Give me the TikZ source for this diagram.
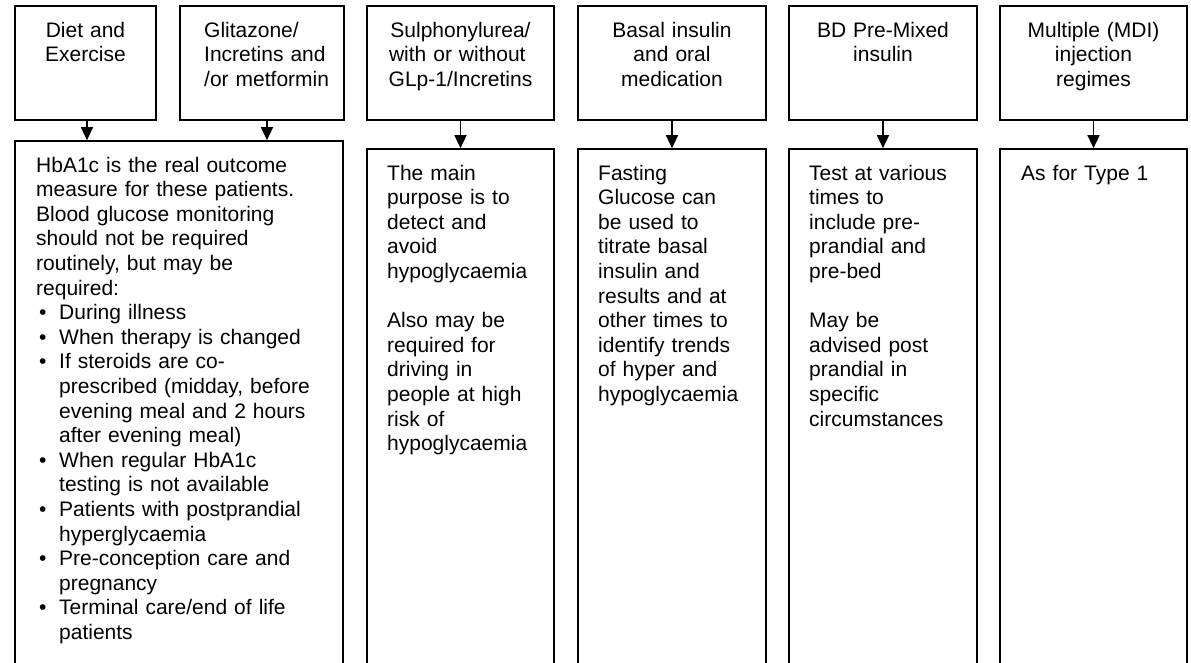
\documentclass[tikz,border=0pt]{standalone}
\usepackage{fontspec}
\setmainfont{Liberation Sans}
\usetikzlibrary{arrows.meta}
\newcommand{\myitem}{\makebox[23pt][l]{\hspace{3pt}\textbullet}}
\newcommand{\myind}{\hspace*{23pt}}
\begin{document}
\begin{tikzpicture}[x=1pt,y=-1pt,
  boxstyle/.style={draw, line width=1.7pt, inner sep=0pt, minimum height=#1},
  hbox/.style={boxstyle=114pt},
  tbox/.style={boxstyle=571pt},
  txt/.style={font=\fontsize{21pt}{24.6pt}\selectfont, inner sep=0pt, text width=#1, align=left, anchor=base west},
  hd/.style={font=\fontsize{21pt}{24.6pt}\selectfont, inner sep=0pt, text width=#1, align=center, anchor=base},
  arr/.style={line width=1.6pt, -{Triangle[length=13pt,width=12pt]}}]
\useasboundingbox (0,0) rectangle (1191,662);
\clip (0,0) rectangle (1191,662);
\fill[white] (0,0) rectangle (1191,662);
% header boxes
\node[hbox, minimum width=141pt] (h1) at (85.5,63) {};
\node[hbox, minimum width=164pt] (h2) at (262,63) {};
\node[hbox, minimum width=187pt] (h3) at (460.5,63) {};
\node[hbox, minimum width=188pt] (h4) at (672,63) {};
\node[hbox, minimum width=188pt] (h5) at (883,63) {};
\node[hbox, minimum width=187pt] (h6) at (1093.5,63) {};
% header texts
\node[hd=141pt] (t1) at (85.5,37) {Diet and\\Exercise};
\node[txt=140pt] (t2) at (204,37) {Glitazone/\\Incretins and\\/or metformin};
\node[hd=187pt] (t3) at (460.5,37) {Sulphonylurea/\\\makebox[143pt][s]{with or without}\\GLp-1/Incretins};
\node[hd=188pt] (t4) at (672,37) {Basal insulin\\and oral\\medication};
\node[hd=188pt] (t5) at (883,37) {BD Pre-Mixed\\insulin};
\node[hd=187pt] (t6) at (1093.5,37) {Multiple (MDI)\\injection\\regimes};
% bottom boxes
\node[boxstyle=579pt, minimum width=328pt] (A) at (179,430.5) {};
\node[tbox, minimum width=187pt] (B) at (460.5,434.5) {};
\node[tbox, minimum width=188pt] (C) at (672,434.5) {};
\node[tbox, minimum width=188pt] (D) at (883,434.5) {};
\node[tbox, minimum width=187pt] (E) at (1093.5,434.5) {};
% arrows
\draw[arr] ([xshift=1.5pt]h1.south) -- ([xshift=1.5pt]h1.south |- A.north);
\draw[arr] ([xshift=5pt]h2.south) -- ([xshift=5pt]h2.south |- A.north);
\draw[arr] (h3.south) -- (B.north);
\draw[arr] (h4.south) -- (C.north);
\draw[arr] (h5.south) -- (D.north);
\draw[arr] (h6.south) -- (E.north);
% body texts
\node[txt=300pt] (ta) at (36,172) {HbA1c is the real outcome\\
measure for these patients.\\
Blood glucose monitoring\\
should not be required\\
routinely, but may be\\
required:\\
\myitem During illness\\
\myitem When therapy is changed\\
\myitem If steroids are co-\\
\myind prescribed (midday, before\\
\myind evening meal and 2 hours\\
\myind after evening meal)\\
\myitem When regular HbA1c\\
\myind testing is not available\\
\myitem Patients with postprandial\\
\myind hyperglycaemia\\
\myitem Pre-conception care and\\
\myind pregnancy\\
\myitem Terminal care/end of life\\
\myind patients};
\node[txt=170pt] (tb) at (387,180) {The main\\purpose is to\\detect and\\avoid\\hypoglycaemia\\\mbox{}\\Also may be\\required for\\driving in\\people at high\\risk of\\hypoglycaemia};
\node[txt=170pt] (tc) at (598,180) {Fasting\\Glucose can\\be used to\\titrate basal\\insulin and\\results and at\\other times to\\identify trends\\of hyper and\\hypoglycaemia};
\node[txt=170pt] (td) at (809,180) {Test at various\\times to\\include pre-\\prandial and\\pre-bed\\\mbox{}\\May be\\advised post\\prandial in\\specific\\circumstances};
\node[txt=170pt] (te) at (1021,180) {As for Type 1};
\end{tikzpicture}
\end{document}
